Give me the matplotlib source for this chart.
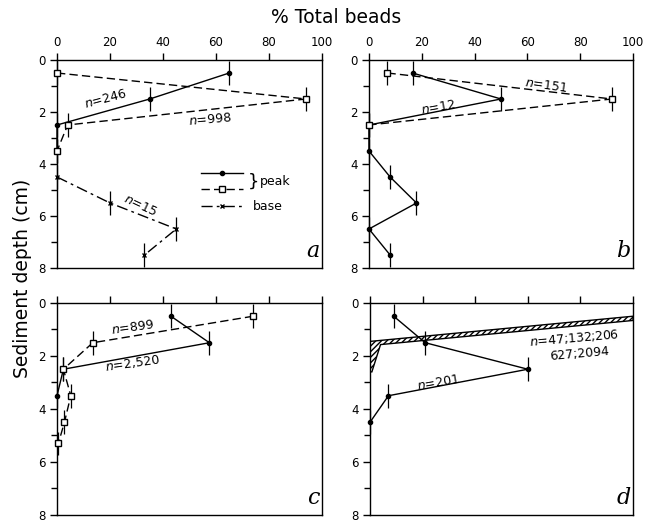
import matplotlib
matplotlib.use("Agg")
import matplotlib.pyplot as plt
from matplotlib.ticker import MultipleLocator

# % total beads vs sediment depth (cm)

# panel a
a_peak1_x = [65, 35, 0, 0]
a_peak1_depth = [0.5, 1.5, 2.5, 3.5]
a_peak2_x = [0, 94, 4, 0]
a_peak2_depth = [0.5, 1.5, 2.5, 3.5]
a_base_x = [0, 20, 45, 33]
a_base_depth = [4.5, 5.5, 6.5, 7.5]

# panel b
b_peak1_x = [16.5, 50, 0, 0, 8, 18, 0, 8]
b_peak1_depth = [0.5, 1.5, 2.5, 3.5, 4.5, 5.5, 6.5, 7.5]
b_peak2_x = [7, 92, 0]
b_peak2_depth = [0.5, 1.5, 2.5]

# panel c
c_peak1_x = [43, 57.5, 2.4, 0]
c_peak1_depth = [0.5, 1.5, 2.5, 3.5]
c_peak2_x = [74, 13.5, 2.4, 5.2, 2.8, 0.5]
c_peak2_depth = [0.5, 1.5, 2.5, 3.5, 4.5, 5.3]

# panel d
d_peak1_x = [9, 21, 60, 7, 0]
d_peak1_depth = [0.5, 1.5, 2.5, 3.5, 4.5]
d_band_x = [100, 0, 0, 0.7, 4, 100]
d_band_depth = [0.5, 1.45, 2.6, 2.6, 1.57, 0.66]

x_ticks = [0, 20, 40, 60, 80, 100]
depth_ticks = [0, 2, 4, 6, 8]
depth_half = 0.45

plt.rcParams["font.family"] = ["DejaVu Sans"]

fig = plt.figure(figsize=(6.57, 5.23), dpi=100)
ax_a = fig.add_axes([0.0868, 0.4876, 0.4033, 0.3977])
ax_b = fig.add_axes([0.5616, 0.4876, 0.4018, 0.3977])
ax_c = fig.add_axes([0.0868, 0.0153, 0.4033, 0.4054])
ax_d = fig.add_axes([0.5632, 0.0153, 0.4003, 0.4054])


def style_axes(ax, labels):
    ax.set_xlim(0, 100)
    ax.set_ylim(8, 0)
    ax.xaxis.tick_top()
    ax.set_xticks(x_ticks)
    ax.set_yticks(depth_ticks)
    ax.yaxis.set_minor_locator(MultipleLocator(1))
    ax.tick_params(direction="out", length=5, width=1, labelsize=8.5, pad=3)
    ax.tick_params(which="minor", direction="out", length=4, width=1)
    if not labels:
        ax.set_xticklabels([])
    for s in ax.spines.values():
        s.set_linewidth(1)


def profile(ax, x, depth, kind):
    if kind == "solid":
        kw = dict(color="black", lw=1, marker="o", ms=3, mfc="black", ls="-")
    elif kind == "dash":
        kw = dict(color="black", lw=1, marker="s", ms=5, mfc="white", ls=(0, (6, 3)))
    else:
        kw = dict(color="black", lw=1, marker="x", ms=3, ls=(0, (8, 3, 2, 3)))
    ax.errorbar(x, depth, yerr=depth_half, fmt="none", ecolor="black",
                elinewidth=0.9, capsize=0, clip_on=False)
    ax.plot(x, depth, clip_on=False, zorder=3, **kw)


def label(ax, x, y, txt, rot):
    ax.text(x, y, txt, rotation=rot, fontsize=9, ha="center", va="center",
            rotation_mode="anchor")


def letter(ax, ch):
    ax.text(0.99, 0.03, ch, transform=ax.transAxes, ha="right", va="bottom",
            fontsize=16, style="italic", family="DejaVu Serif")


for ax, lab in [(ax_a, True), (ax_b, True), (ax_c, False), (ax_d, False)]:
    style_axes(ax, lab)

# a
profile(ax_a, a_peak1_x, a_peak1_depth, "solid")
profile(ax_a, a_peak2_x, a_peak2_depth, "dash")
profile(ax_a, a_base_x, a_base_depth, "base")
label(ax_a, 18.5, 1.5, r"$n$=246", 15)
label(ax_a, 57.7, 2.3, r"$n$=998", 5)
label(ax_a, 31.6, 5.58, r"$n$=15", -25)
letter(ax_a, "a")

handles = [
    plt.Line2D([], [], color="black", lw=1, marker="o", ms=3, ls="-"),
    plt.Line2D([], [], color="black", lw=1, marker="s", ms=4, mfc="white", ls=(0, (6, 3))),
    plt.Line2D([], [], color="black", lw=1, marker="x", ms=3, ls=(0, (8, 3, 2, 3))),
]
ax_a.legend(handles, [" ", " ", "base"], loc="upper left",
            bbox_to_anchor=(0.5, 0.54), frameon=False, fontsize=9,
            handlelength=3.4, handletextpad=0.8, labelspacing=0.3)
ax_a.text(0.72, 0.415, "}", transform=ax_a.transAxes, fontsize=13,
          ha="left", va="center")
ax_a.text(0.765, 0.415, "peak", transform=ax_a.transAxes, fontsize=9,
          ha="left", va="center")

# b
profile(ax_b, b_peak1_x, b_peak1_depth, "solid")
profile(ax_b, b_peak2_x, b_peak2_depth, "dash")
label(ax_b, 67, 1.0, r"$n$=151", -8)
label(ax_b, 26.3, 1.82, r"$n$=12", 10)
letter(ax_b, "b")

# c
profile(ax_c, c_peak1_x, c_peak1_depth, "solid")
profile(ax_c, c_peak2_x, c_peak2_depth, "dash")
label(ax_c, 28.6, 0.92, r"$n$=899", 8)
label(ax_c, 28.6, 2.28, r"$n$=2,520", 8)
letter(ax_c, "c")

# d
ax_d.fill(d_band_x, d_band_depth, facecolor="white", edgecolor="black",
          hatch="//////", lw=1, zorder=2)
profile(ax_d, d_peak1_x, d_peak1_depth, "solid")
label(ax_d, 77.6, 1.32, r"$n$=47;132;206", 5)
label(ax_d, 79.8, 1.92, "627;2094", 5)
label(ax_d, 26, 3.0, r"$n$=201", 10)
letter(ax_d, "d")

fig.text(0.511, 0.966, "% Total beads", ha="center", va="center", fontsize=13.5)
fig.text(0.034, 0.467, "Sediment depth (cm)", ha="center", va="center",
         rotation=90, fontsize=13.5)

fig.savefig("out.png", dpi=100)
